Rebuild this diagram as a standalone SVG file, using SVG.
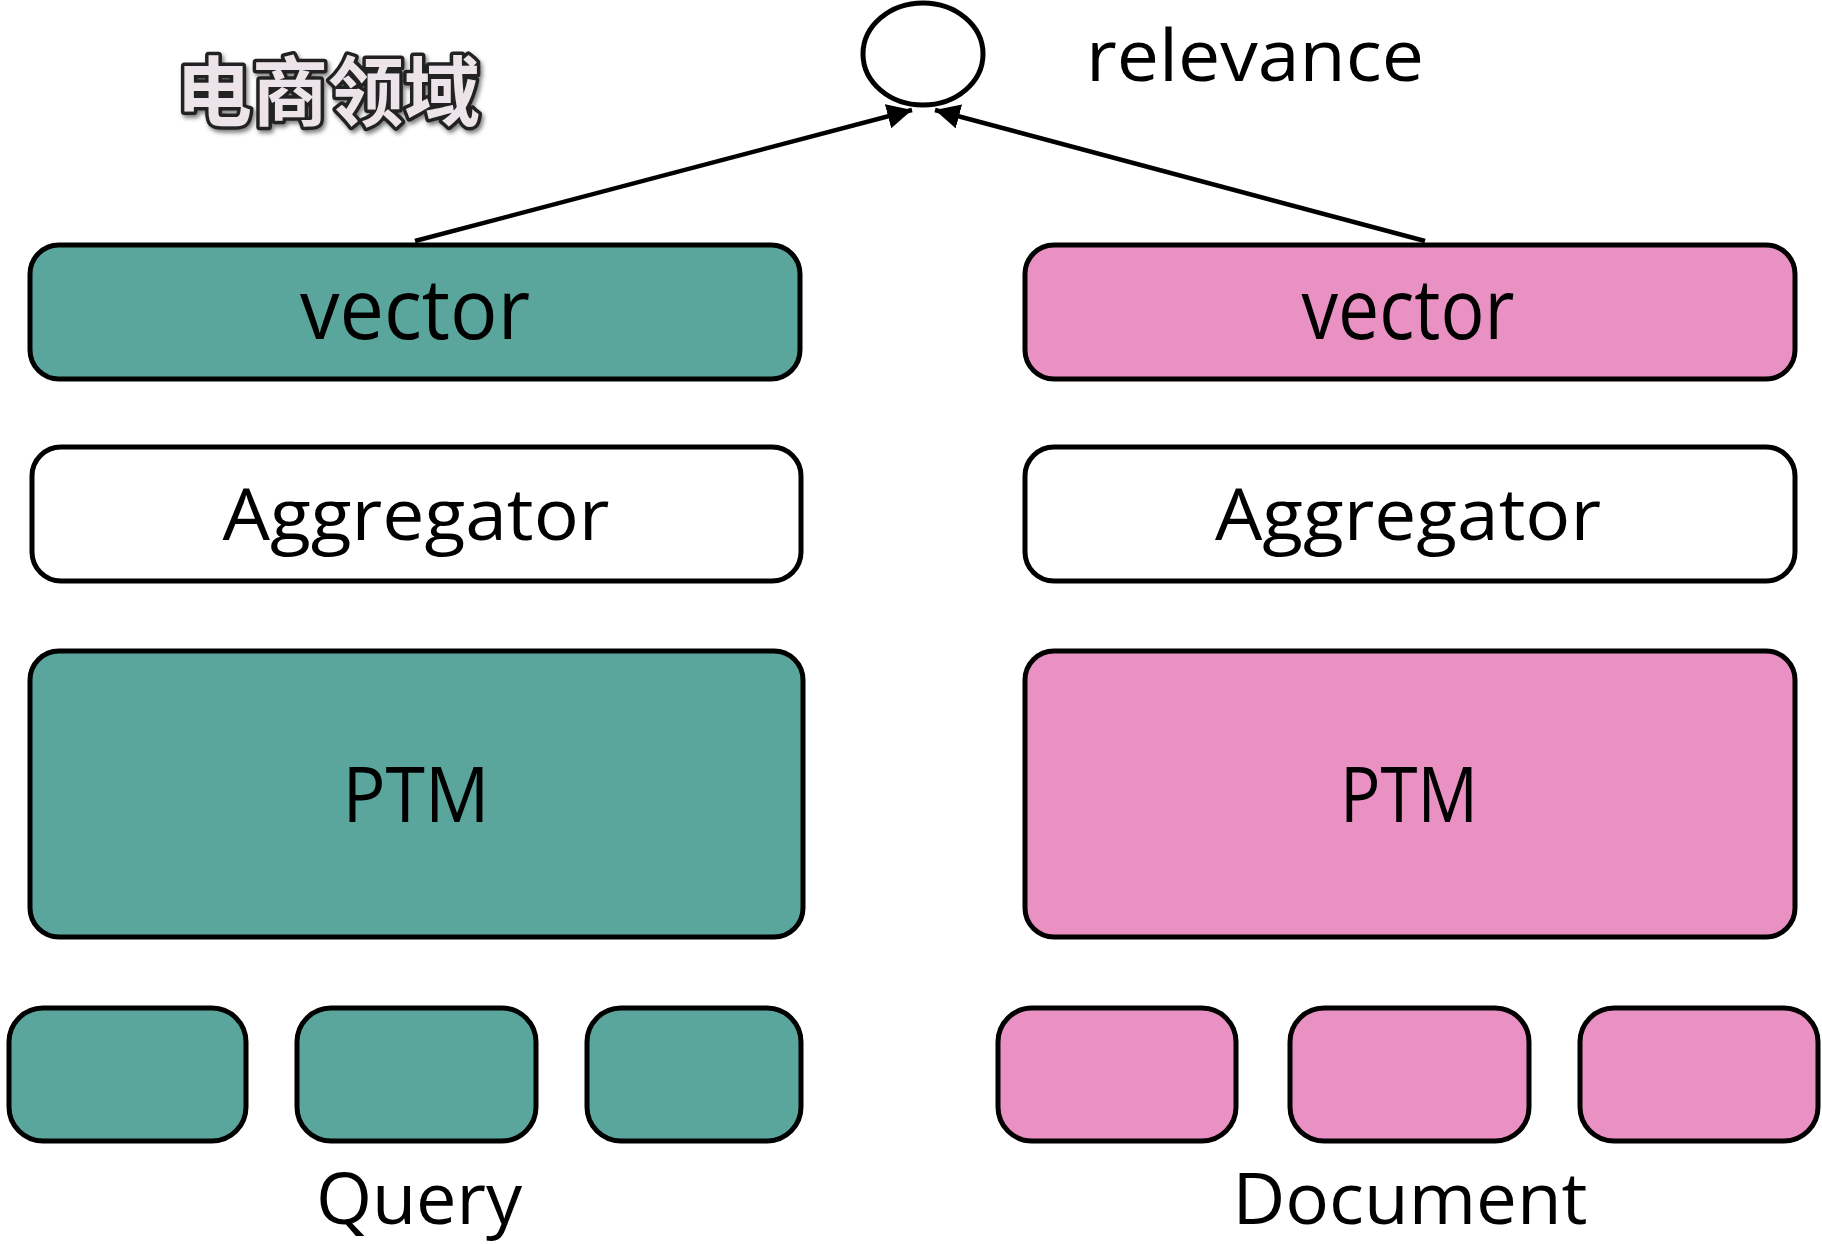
<svg xmlns="http://www.w3.org/2000/svg" width="1822" height="1244" viewBox="0 0 1822 1244">
<style>
.q{fill:#5AA69C;stroke:#000;stroke-width:5}
.d{fill:#EA91C3;stroke:#000;stroke-width:5}
.w{fill:#fff;stroke:#000;stroke-width:5}
.t{font-family:"Open Sans","Noto Sans",sans-serif;fill:#000;text-anchor:middle}
.conn{stroke:#000;stroke-width:4.5;fill:none}
</style>
<defs>
<marker id="ah" viewBox="0 0 10 10" refX="10" refY="5" markerWidth="5.5" markerHeight="5.5" markerUnits="strokeWidth" orient="auto">
<path d="M0,0 L10,5 L0,10 z" fill="#000"/>
</marker>
<filter id="sh" x="-10%" y="-20%" width="130%" height="150%">
<feDropShadow dx="2" dy="3" stdDeviation="2" flood-color="#000" flood-opacity="0.5"/>
</filter>
</defs>
<rect width="1822" height="1244" fill="#fff"/>
<g id="title"><text x="328" y="120" font-family="'Noto Sans CJK SC',sans-serif" font-weight="bold" font-size="76" text-anchor="middle" fill="#ECE4E8" stroke="#222" stroke-width="7" paint-order="stroke" stroke-linejoin="round" filter="url(#sh)">电商领域</text></g>
<g id="relevance-node"><ellipse cx="923" cy="54" rx="60" ry="51" fill="#fff" stroke="#000" stroke-width="5"/></g>
<g id="relevance-label"><text class="t" x="1255" y="81" font-size="72" textLength="338" lengthAdjust="spacingAndGlyphs">relevance</text></g>
<g id="connectors">
<line class="conn" x1="415" y1="241" x2="912" y2="110" marker-end="url(#ah)"/>
<line class="conn" x1="1425" y1="241" x2="935" y2="110" marker-end="url(#ah)"/>
</g>
<g id="q-vector"><rect class="q" x="30" y="245" width="770" height="134" rx="29"/><text class="t" x="415" y="339" font-size="84" textLength="230" lengthAdjust="spacingAndGlyphs">vector</text></g>
<g id="d-vector"><rect class="d" x="1025" y="245" width="770" height="134" rx="29"/><text class="t" x="1408" y="339" font-size="84" textLength="213" lengthAdjust="spacingAndGlyphs">vector</text></g>
<g id="q-agg"><rect class="w" x="32" y="447" width="769" height="134" rx="29"/><text class="t" x="416" y="540" font-size="72" textLength="387" lengthAdjust="spacingAndGlyphs">Aggregator</text></g>
<g id="d-agg"><rect class="w" x="1025" y="447" width="770" height="134" rx="29"/><text class="t" x="1408" y="540" font-size="72" textLength="386" lengthAdjust="spacingAndGlyphs">Aggregator</text></g>
<g id="q-ptm"><rect class="q" x="30" y="651" width="773" height="286" rx="29"/><text class="t" x="416" y="822" font-size="76" textLength="147" lengthAdjust="spacingAndGlyphs">PTM</text></g>
<g id="d-ptm"><rect class="d" x="1025" y="651" width="770" height="286" rx="29"/><text class="t" x="1409" y="822" font-size="76" textLength="138" lengthAdjust="spacingAndGlyphs">PTM</text></g>
<g id="q-tok1"><rect class="q" x="9" y="1008" width="237" height="133" rx="34"/></g>
<g id="q-tok2"><rect class="q" x="297" y="1008" width="239" height="133" rx="34"/></g>
<g id="q-tok3"><rect class="q" x="587" y="1008" width="214" height="133" rx="34"/></g>
<g id="d-tok1"><rect class="d" x="998" y="1008" width="238" height="133" rx="34"/></g>
<g id="d-tok2"><rect class="d" x="1290" y="1008" width="239" height="133" rx="34"/></g>
<g id="d-tok3"><rect class="d" x="1580" y="1008" width="238" height="133" rx="34"/></g>
<g id="q-label"><text class="t" x="419" y="1224" font-size="72" textLength="206" lengthAdjust="spacingAndGlyphs">Query</text></g>
<g id="d-label"><text class="t" x="1410" y="1224" font-size="72" textLength="355" lengthAdjust="spacingAndGlyphs">Document</text></g>
</svg>
